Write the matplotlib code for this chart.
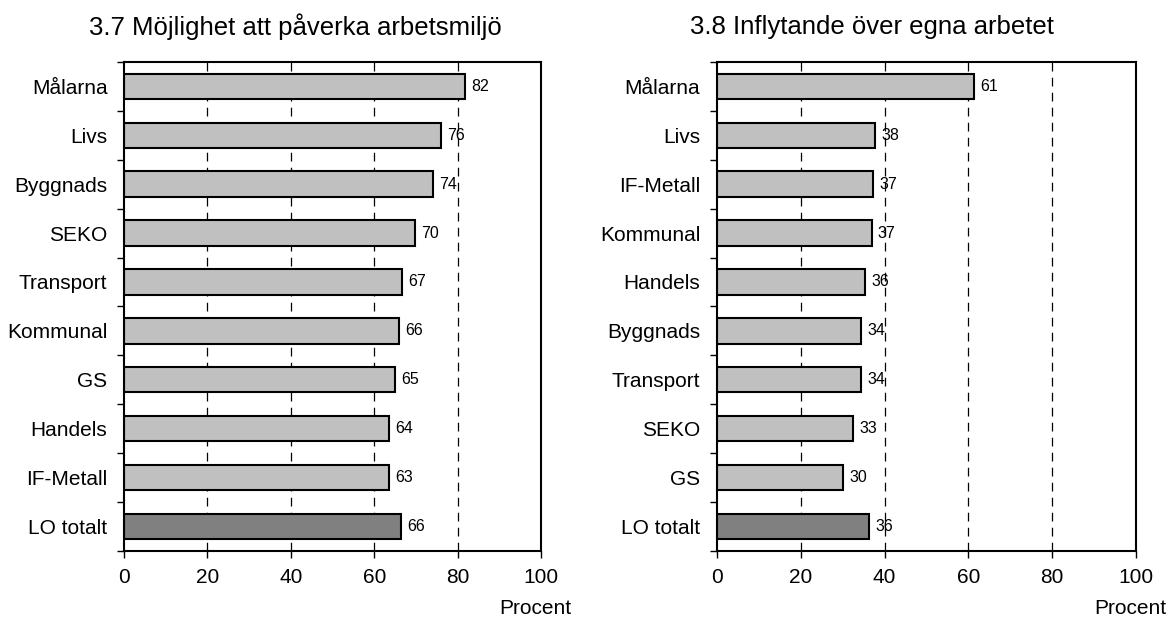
import matplotlib
matplotlib.use("Agg")
import matplotlib.pyplot as plt
from matplotlib.transforms import offset_copy

plt.rcParams['font.family'] = ['Liberation Sans', 'DejaVu Sans']

# 3.7 Möjlighet att påverka arbetsmiljö
left_title = "3.7 Möjlighet att påverka arbetsmiljö"
left_names = ["Målarna", "Livs", "Byggnads", "SEKO", "Transport",
              "Kommunal", "GS", "Handels", "IF-Metall", "LO totalt"]
left_values = [81.8, 76.0, 74.1, 69.8, 66.6, 66.0, 65.0, 63.5, 63.5, 66.4]
left_labels = [82, 76, 74, 70, 67, 66, 65, 64, 63, 66]

# 3.8 Inflytande över egna arbetet
right_title = "3.8 Inflytande över egna arbetet"
right_names = ["Målarna", "Livs", "IF-Metall", "Kommunal", "Handels",
               "Byggnads", "Transport", "SEKO", "GS", "LO totalt"]
right_values = [61.3, 37.7, 37.3, 36.9, 35.4, 34.4, 34.4, 32.4, 30.0, 36.3]
right_labels = [61, 38, 37, 37, 36, 34, 34, 33, 30, 36]

x_ticks = [0, 20, 40, 60, 80, 100]
grid_lines = [20, 40, 60, 80]

light = "#c0c0c0"
dark = "#808080"


def draw_panel(ax, title, names, values, labels, title_x):
    n = len(names)
    ypos = list(range(n))
    colors = [light] * (n - 1) + [dark]
    for g in grid_lines:
        ax.axvline(g, color="black", lw=0.9, dashes=(7, 5), zorder=1)
    ax.barh(ypos, values, height=0.52, color=colors, edgecolor="black",
            linewidth=1.5, zorder=2)
    for y, v, lab in zip(ypos, values, labels):
        ax.text(v + 1.5, y, str(lab), va="center", ha="left", fontsize=11.5, zorder=3)

    ax.set_xlim(0, 100)
    ax.set_ylim(n - 0.5, -0.5)
    ax.set_xticks(x_ticks)
    ax.set_xticklabels([str(t) for t in x_ticks], fontsize=15)
    ax.tick_params(axis="x", length=5, width=1, pad=7)

    # category names without ticks, ticks at category boundaries
    ax.set_yticks(ypos)
    ax.set_yticklabels(names, fontsize=15)
    ax.tick_params(axis="y", which="major", length=0, pad=12)
    ax.set_yticks([i - 0.5 for i in range(n + 1)], minor=True)
    ax.tick_params(axis="y", which="minor", length=5, width=1)

    for s in ax.spines.values():
        s.set_linewidth(1.5)
    tr = offset_copy(ax.transAxes, fig=ax.figure, x=30, y=0, units="dots")
    ax.text(1.0, -0.098, "Procent", transform=tr, ha="right",
            va="top", fontsize=15)
    ax.figure.text(title_x, 0.957, title, ha="center", va="center", fontsize=18.5)


fig = plt.figure(figsize=(11.67, 6.19), dpi=100)
ax1 = fig.add_axes([0.1063, 0.110, 0.3573, 0.790])
ax2 = fig.add_axes([0.6144, 0.110, 0.3590, 0.790])

draw_panel(ax1, left_title, left_names, left_values, left_labels, 0.2528)
draw_panel(ax2, right_title, right_names, right_values, right_labels, 0.747)

fig.savefig("out.png", dpi=100)
